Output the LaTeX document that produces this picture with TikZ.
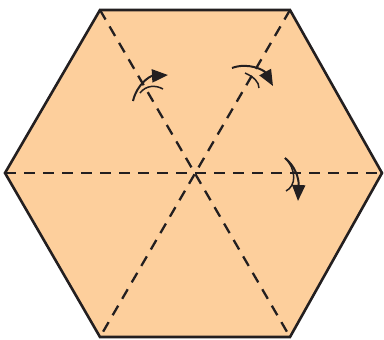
\documentclass[tikz,border=0pt]{standalone}
\usepackage{xcolor}
\usepackage{tikz}
\usetikzlibrary{arrows.meta, calc}
\definecolor{hexpeach}{RGB}{253, 207, 156}
\definecolor{inkdark}{RGB}{35, 31, 32}

\begin{document}
\begin{tikzpicture}[
    x=1pt, y=-1pt,
    hexside/.style={draw=inkdark, line width=2.6pt, line join=miter, fill=hexpeach},
    axisline/.style={draw=inkdark, line width=2.3pt, dash pattern=on 11pt off 8pt},
    turn/.style={draw=inkdark, line width=2pt, -{Triangle[length=16pt, width=13pt]}},
    turnthin/.style={draw=inkdark, line width=1.5pt}
  ]
    \useasboundingbox (0,0) rectangle (384,340);

    % corners of the hexagon
    \coordinate (w)  at (5,173);
    \coordinate (nw) at (100,10);
    \coordinate (ne) at (290,10);
    \coordinate (e)  at (382,173);
    \coordinate (se) at (290,337);
    \coordinate (sw) at (100,337);
    \coordinate (mid) at (194,173);

    \draw[hexside] (w) -- (nw) -- (ne) -- (e) -- (se) -- (sw) -- cycle;

    % the three axes
    \draw[axisline] (w) -- (e);
    \draw[axisline] (nw) -- (se);
    \draw[axisline] (ne) -- (sw);

    % rotation marks
    \draw[turn] (133,101) .. controls (137,84) and (150,76) .. (168,75);
    \draw[turnthin] (140,93) .. controls (146,85) and (156,85) .. (163,89);

    \draw[turn] (232,68) .. controls (248,62) and (264,70) .. (273,86);
    \draw[turnthin] (245,73) .. controls (254,77) and (259,82) .. (259,88);

    \draw[turn] (285,158) .. controls (295,166) and (299,178) .. (298,201);
    \draw[turnthin] (285,158) .. controls (297,170) and (296,186) .. (286,191);
  \end{tikzpicture}
\end{document}
